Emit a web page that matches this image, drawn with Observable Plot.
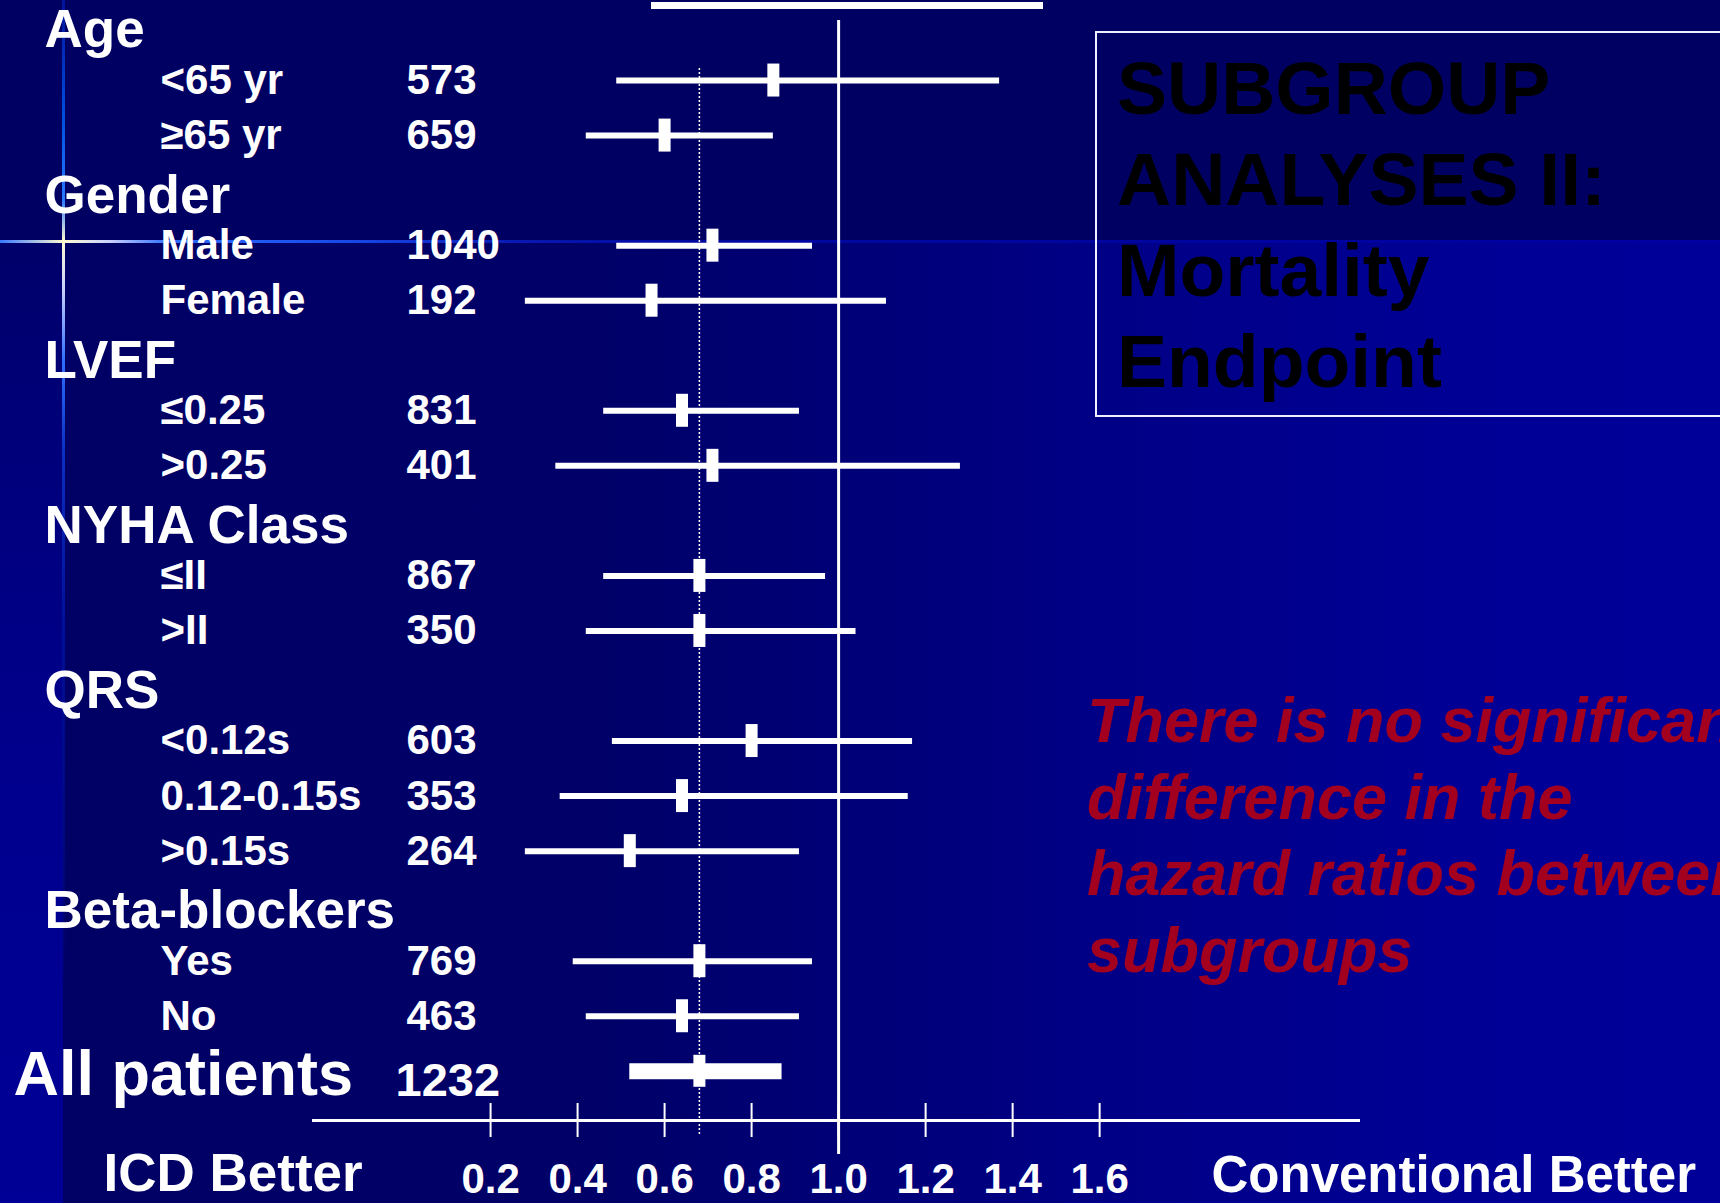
<!DOCTYPE html>
<html>
<head>
<meta charset="utf-8">
<script src="https://cdn.jsdelivr.net/npm/d3@7"></script>
<script src="https://cdn.jsdelivr.net/npm/@observablehq/plot@0.6"></script>
<style>
  html, body { margin: 0; padding: 0; background: #000066; }
  #slide {
    position: relative; width: 1720px; height: 1203px; overflow: hidden;
    font-family: "Liberation Sans", Arial, sans-serif;
    background: linear-gradient(to right, #000064 0px, #000068 600px, #000086 1100px, #000096 1500px, #000099 1720px);
  }
  #top-band { position: absolute; left: 0; top: 0; width: 1720px; height: 241px; background: #000062; }
  #strip {
    position: absolute; left: 0; top: 241px; width: 63px; height: 962px;
    background: linear-gradient(to bottom, #00006a 0px, #00007e 250px, #00008e 550px, #000096 962px);
  }
  #glint-v {
    position: absolute; left: 62px; top: 0; width: 3px; height: 1203px;
    background: linear-gradient(to bottom, #00129a 0px, #0050e0 120px, #2a78ff 200px, #fffbd0 241px,
      #c8d0ff 290px, #3070ff 360px, #0a30c0 450px, #00109a 620px, rgba(0,0,150,0) 1000px);
  }
  #glint-h {
    position: absolute; left: 0; top: 240px; width: 1720px; height: 3px;
    background: linear-gradient(to right, #3a78ff 0px, #fffbd0 64px, #c8d0ff 110px, #2a6aff 170px,
      #1848e8 350px, #0818b0 520px, #0008a0 700px, #0000a0 1720px);
  }
  #bar-top { position: absolute; left: 651px; top: 2px; width: 392px; height: 7px; background: #ffffff; }
  #chart { position: absolute; left: 0; top: 0; }
  #title-box {
    position: absolute; left: 1095px; top: 31px; width: 700px; height: 386px;
    box-sizing: border-box; border: 2px solid #eef0ff;
  }
  #title {
    position: absolute; left: 1117px; top: 43px; margin: 0;
    font-weight: bold; font-size: 75px; line-height: 91px; color: #000000; white-space: nowrap;
  }
  #note {
    position: absolute; left: 1087px; top: 682px; margin: 0;
    font-weight: bold; font-style: italic; font-size: 63px; line-height: 76.7px;
    color: #a3001f; white-space: nowrap;
  }
</style>
</head>
<body>
<div id="slide">
  <div id="top-band"></div>
  <div id="strip"></div>
  <div id="glint-v"></div>
  <div id="glint-h"></div>
  <div id="bar-top"></div>
  <div id="chart"></div>
  <div id="title-box"></div>
  <p id="title">SUBGROUP<br>ANALYSES II:<br>Mortality<br>Endpoint</p>
  <p id="note">There is no significant<br>difference in the<br>hazard ratios between<br>subgroups</p>
</div>
<script>
// Subgroup hazard ratios (ICD vs conventional therapy) with 95% confidence limits
const groupNames = ["Age", "Gender", "LVEF", "NYHA Class", "QRS", "Beta-blockers"];
const subgroupLabels = ["<65 yr", "≥65 yr", "Male", "Female", "≤0.25", ">0.25", "≤II", ">II",
                        "<0.12s", "0.12-0.15s", ">0.15s", "Yes", "No"];
const subgroupGroup = ["Age", "Age", "Gender", "Gender", "LVEF", "LVEF", "NYHA Class", "NYHA Class",
                       "QRS", "QRS", "QRS", "Beta-blockers", "Beta-blockers"];
const patients    = [573, 659, 1040, 192, 831, 401, 867, 350, 603, 353, 264, 769, 463];
const hazardRatio = [0.85, 0.60, 0.71, 0.57, 0.64, 0.71, 0.68, 0.68, 0.80, 0.64, 0.52, 0.68, 0.64];
const ciLower     = [0.49, 0.42, 0.49, 0.28, 0.46, 0.35, 0.46, 0.42, 0.48, 0.36, 0.28, 0.39, 0.42];
const ciUpper     = [1.37, 0.85, 0.94, 1.11, 0.91, 1.28, 0.97, 1.04, 1.17, 1.16, 0.91, 0.94, 0.91];

const overallLabel = "All patients";
const overallPatients = 1232;
const overallHR = 0.68;
const overallCI = [0.52, 0.87];

const axisTicks = [0.2, 0.4, 0.6, 0.8, 1.0, 1.2, 1.4, 1.6];
const betterLabels = ["ICD Better", "Conventional Better"];

// Row table: each group header followed by its subgroups, overall row last
const rows = [];
for (const g of groupNames) {
  rows.push({key: g, kind: "header"});
  subgroupLabels.forEach((s, i) => {
    if (subgroupGroup[i] === g) {
      rows.push({key: s, kind: "sub", n: patients[i], hr: hazardRatio[i], lo: ciLower[i], hi: ciUpper[i]});
    }
  });
}
rows.push({key: overallLabel, kind: "overall", n: overallPatients, hr: overallHR, lo: overallCI[0], hi: overallCI[1]});

const headers = rows.filter(d => d.kind === "header");
const subs = rows.filter(d => d.kind === "sub");
const overall = rows.filter(d => d.kind === "overall");

const W = 1720, H = 1203;
const frameTop = 25, frameBottom = 1120, frameLeft = 313, frameRight = 1358;
const white = "#ffffff";
const bold = {fill: white, fontWeight: "bold", textAnchor: "start"};

const chart = Plot.plot({
  width: W,
  height: H,
  marginTop: frameTop,
  marginBottom: H - frameBottom,
  marginLeft: frameLeft,
  marginRight: W - frameRight,
  style: {background: "transparent", fontFamily: "'Liberation Sans', Arial, sans-serif", overflow: "visible"},
  // the axis line runs a little past the tick range on both sides
  x: {domain: [-0.207, 2.195], axis: null},
  y: {type: "point", domain: rows.map(d => d.key), padding: 0.447, align: 0, round: false, axis: null},
  marks: [
    // horizontal axis line and crossing ticks
    Plot.frame({anchor: "bottom", stroke: white, strokeWidth: 3}),
    Plot.ruleX(axisTicks, {stroke: white, strokeWidth: 2, insetTop: frameBottom - frameTop - 17, insetBottom: -17}),
    // line of no effect
    Plot.ruleX([1], {stroke: white, strokeWidth: 3, insetTop: -5, insetBottom: -34}),
    // overall hazard ratio
    Plot.ruleX([overallHR], {stroke: white, strokeWidth: 1.5, strokeDasharray: "2,2", insetTop: 43, insetBottom: -14}),
    // confidence intervals and point estimates
    Plot.ruleY(subs, {y: "key", x1: "lo", x2: "hi", stroke: white, strokeWidth: 6}),
    Plot.ruleX(subs, {x: "hr", y1: "key", y2: "key", stroke: white, strokeWidth: 12, insetTop: -16.5, insetBottom: -16.5}),
    Plot.ruleY(overall, {y: "key", x1: "lo", x2: "hi", stroke: white, strokeWidth: 16}),
    Plot.ruleX(overall, {x: "hr", y1: "key", y2: "key", stroke: white, strokeWidth: 12, insetTop: -16, insetBottom: -16}),
    // tick labels
    Plot.text(axisTicks, {x: d => d, frameAnchor: "bottom", dy: 72, text: d => d3.format(".1f")(d),
      fontSize: 42, fontWeight: "bold", fill: white}),
    Plot.text([betterLabels[0]], {...bold, text: d => d, frameAnchor: "bottom-left", dx: 103 - frameLeft, dy: 70, fontSize: 53}),
    Plot.text([betterLabels[1]], {...bold, text: d => d, frameAnchor: "bottom-right", dx: 1211 - frameRight, dy: 71, fontSize: 51}),
    // row labels and patient counts
    Plot.text(headers, {...bold, y: "key", text: "key", frameAnchor: "left", dx: 44 - frameLeft, dy: 5, fontSize: 53}),
    Plot.text(subs, {...bold, y: "key", text: "key", frameAnchor: "left", dx: 160 - frameLeft, fontSize: 42}),
    Plot.text(subs, {...bold, y: "key", text: d => String(d.n), frameAnchor: "left", dx: 406 - frameLeft, fontSize: 42}),
    Plot.text(overall, {...bold, y: "key", text: "key", frameAnchor: "left", dx: 13 - frameLeft, dy: 4, fontSize: 63}),
    Plot.text(overall, {...bold, y: "key", text: d => String(d.n), frameAnchor: "left", dx: 395 - frameLeft, dy: 10, fontSize: 47})
  ]
});

document.getElementById("chart").appendChild(chart);
</script>
</body>
</html>
